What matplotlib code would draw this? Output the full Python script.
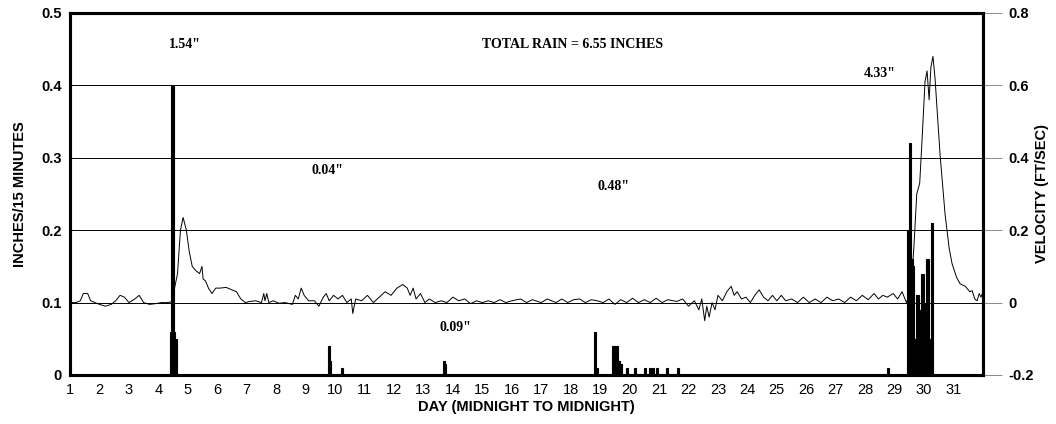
import matplotlib
matplotlib.use("Agg")
import matplotlib.pyplot as plt

# rainfall (inches per 15 minutes), left axis
rain_day = [4.44, 4.48, 4.51, 4.55, 4.59,
            9.79, 9.83, 10.24, 13.70, 13.73,
            18.83, 18.87, 19.45, 19.50, 19.55, 19.62, 19.70, 19.91, 20.18,
            20.52, 20.69, 20.80, 20.93, 21.27, 21.65,
            28.78, 29.47, 29.52, 29.58, 29.63, 29.69, 29.73, 29.77, 29.81, 29.84,
            29.90, 29.95, 29.99, 30.03, 30.07, 30.12, 30.16, 30.20, 30.23, 30.27]
rain_val = [0.06, 0.40, 0.06, 0.05, 0.05,
            0.04, 0.02, 0.01, 0.02, 0.015,
            0.06, 0.01, 0.04, 0.04, 0.04, 0.02, 0.015, 0.01, 0.01,
            0.01, 0.01, 0.01, 0.01, 0.01, 0.01,
            0.01, 0.20, 0.32, 0.16, 0.15, 0.05, 0.04, 0.11, 0.05, 0.09,
            0.09, 0.14, 0.05, 0.10, 0.04, 0.16, 0.05, 0.03, 0.04, 0.21]

# flow velocity (ft/sec), right axis
vel_day = [1.00, 1.20, 1.35, 1.45, 1.60, 1.70, 1.85, 2.00, 2.20, 2.40, 2.55, 2.70,
           2.85, 3.00, 3.20, 3.35, 3.50, 3.70, 3.90, 4.10, 4.30, 4.45, 4.55, 4.65,
           4.75, 4.84, 4.95, 5.05, 5.15, 5.25, 5.40, 5.48, 5.52, 5.60, 5.70, 5.82,
           5.95, 6.10, 6.30, 6.50, 6.65, 6.80, 6.95, 7.10, 7.30, 7.50, 7.58, 7.62,
           7.68, 7.75, 7.90, 8.10, 8.30, 8.55, 8.65, 8.75, 8.85, 8.95, 9.10, 9.30,
           9.45, 9.60, 9.70, 9.80, 9.95, 10.10, 10.25, 10.40, 10.55, 10.60, 10.70,
           10.90, 11.10, 11.30, 11.50, 11.70, 11.90, 12.10, 12.30, 12.45, 12.55,
           12.65, 12.75, 12.90, 13.05, 13.20, 13.40, 13.60, 13.80, 14.00, 14.20,
           14.40, 14.60, 14.80, 15.00, 15.20, 15.40, 15.60, 15.80, 16.00, 16.30,
           16.50, 16.70, 17.00, 17.20, 17.50, 17.70, 17.90, 18.10, 18.30, 18.50,
           18.70, 18.90, 19.10, 19.30, 19.50, 19.70, 19.90, 20.10, 20.30, 20.50,
           20.70, 20.90, 21.10, 21.30, 21.60, 21.80, 22.00, 22.20, 22.35, 22.45,
           22.55, 22.62, 22.70, 22.80, 22.90, 23.00, 23.15, 23.30, 23.45, 23.55,
           23.65, 23.80, 23.95, 24.10, 24.25, 24.40, 24.55, 24.70, 24.85, 25.00,
           25.15, 25.30, 25.50, 25.70, 25.90, 26.10, 26.30, 26.50, 26.70, 26.90,
           27.10, 27.30, 27.50, 27.70, 27.90, 28.10, 28.30, 28.45, 28.60, 28.75,
           28.95, 29.10, 29.25, 29.40, 29.55, 29.65, 29.75, 29.85, 29.93, 30.03,
           30.10, 30.17, 30.23, 30.30, 30.37, 30.44, 30.54, 30.71, 30.85, 30.95,
           31.10, 31.22, 31.40, 31.55, 31.63, 31.72, 31.80, 31.87, 31.93, 32.00]
vel_val = [0.000, 0.000, 0.005, 0.025, 0.025, 0.005, 0.000, -0.005, -0.010, -0.005,
           0.005, 0.020, 0.015, 0.000, 0.010, 0.020, 0.000, -0.005, -0.003, 0.000,
           0.000, 0.002, 0.040, 0.080, 0.200, 0.235, 0.200, 0.140, 0.100, 0.090,
           0.080, 0.100, 0.065, 0.060, 0.040, 0.025, 0.040, 0.040, 0.042, 0.035,
           0.030, 0.010, 0.000, 0.003, 0.005, 0.000, 0.025, 0.005, 0.025, 0.000,
           0.005, -0.002, 0.000, -0.005, 0.020, 0.010, 0.040, 0.020, 0.005, 0.005,
           -0.010, 0.015, 0.025, 0.005, 0.020, 0.010, 0.020, 0.000, 0.010, -0.030,
           0.010, 0.005, 0.020, 0.000, 0.015, 0.030, 0.020, 0.040, 0.050, 0.040,
           0.020, 0.040, 0.010, 0.025, 0.000, 0.010, 0.000, 0.005, 0.000, 0.015,
           0.005, 0.010, -0.003, 0.005, 0.000, 0.005, 0.000, 0.008, 0.000, 0.005,
           0.010, 0.000, 0.008, 0.000, 0.010, 0.000, 0.010, 0.000, 0.008, 0.010,
           0.000, 0.008, 0.005, 0.000, 0.010, -0.005, 0.008, 0.000, 0.012, 0.000,
           0.008, 0.000, 0.012, 0.000, 0.008, 0.003, 0.010, -0.010, 0.005, -0.020,
           0.010, -0.050, -0.010, -0.040, 0.000, -0.020, 0.020, 0.005, 0.030, 0.045,
           0.020, 0.030, 0.010, 0.015, 0.000, 0.020, 0.035, 0.015, 0.005, 0.020,
           0.005, 0.020, 0.005, 0.010, 0.000, 0.015, 0.000, 0.010, 0.000, 0.015,
           0.005, 0.010, 0.000, 0.015, 0.005, 0.020, 0.008, 0.025, 0.010, 0.020,
           0.015, 0.025, 0.010, 0.030, 0.000, 0.030, 0.150, 0.300, 0.330, 0.450,
           0.610, 0.640, 0.560, 0.650, 0.680, 0.620, 0.535, 0.410, 0.245, 0.150,
           0.107, 0.070, 0.052, 0.045, 0.030, 0.033, 0.010, 0.005, 0.025, 0.015,
           0.030]

day_ticks = list(range(1, 32))
rain_ticks = [0, 0.1, 0.2, 0.3, 0.4, 0.5]
rain_tick_labels = ["0", "0.1", "0.2", "0.3", "0.4", "0.5"]
vel_ticks = [-0.2, 0, 0.2, 0.4, 0.6, 0.8]
vel_tick_labels = ["-0.2", "0", "0.2", "0.4", "0.6", "0.8"]

# event totals written on the chart: (day, rain-axis height, text)
notes = [(4.9, 0.456, '1.54"'), (18.05, 0.456, "TOTAL RAIN = 6.55 INCHES"),
         (28.5, 0.417, '4.33"'), (9.73, 0.282, '0.04"'),
         (19.47, 0.261, '0.48"'), (14.1, 0.065, '0.09"')]

sans = ["Liberation Sans", "DejaVu Sans"]
serif = ["Liberation Serif", "DejaVu Serif"]

fig = plt.figure(figsize=(10.56, 4.24), dpi=100)
ax = fig.add_axes([0.0663, 0.1156, 0.8646, 0.8538])

# rain bars, drawn with an edge so the thin 15-minute bars print bold
ax.bar(rain_day, rain_val, width=0.085, color="black", edgecolor="black",
       linewidth=0.8, zorder=3)
for g in [0.1, 0.2, 0.3, 0.4]:
    ax.axhline(g, color="black", lw=0.7, zorder=1)

ax.set_xlim(1, 32)
ax.set_ylim(0, 0.5)
ax.set_xticks(day_ticks)
ax.set_xticklabels([str(d) for d in day_ticks], family=sans, fontsize=10.5)
ax.set_yticks(rain_ticks)
ax.set_yticklabels(rain_tick_labels, family=sans, fontsize=10.5, fontweight="bold")
ax.tick_params(axis="both", length=0, pad=6)
ax.set_ylabel("INCHES/15 MINUTES", family=sans, fontsize=10.5, fontweight="bold", labelpad=10)
ax.set_xlabel("DAY (MIDNIGHT TO MIDNIGHT)", family=sans, fontsize=10.5,
              fontweight="bold", labelpad=2)

ax2 = ax.twinx()
ax2.plot(vel_day, vel_val, color="black", lw=0.7, zorder=2)
ax2.set_ylim(-0.2, 0.8)
ax2.set_yticks(vel_ticks)
ax2.set_yticklabels(vel_tick_labels, family=sans, fontsize=10.5, fontweight="bold")
ax2.tick_params(axis="y", length=14, width=0.6, color="#777777", pad=4)
ax2.set_ylabel("VELOCITY (FT/SEC)", family=sans, fontsize=10.5, fontweight="bold", labelpad=1)

for a in (ax, ax2):
    for s in a.spines.values():
        s.set_linewidth(2.2)

for x, y, t in notes:
    ax.text(x, y, t, ha="center", va="center", family=serif, fontsize=10,
            fontweight="bold", zorder=5)

plt.savefig("out.png", dpi=100)
